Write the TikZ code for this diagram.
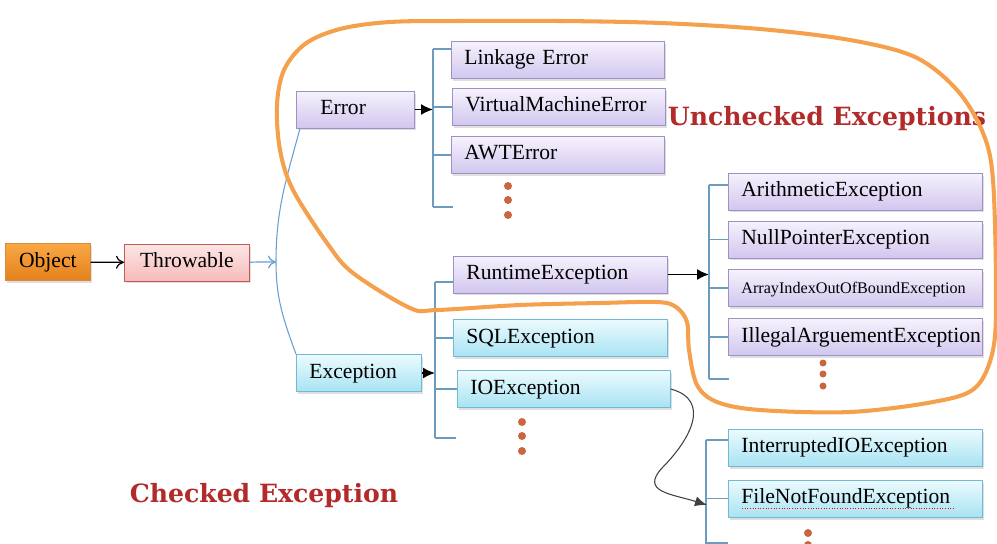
\documentclass[tikz,border=0pt]{standalone}
\usepackage{fontspec}
\setmainfont{Liberation Serif}
\newfontfamily\tagfont{DejaVu Serif}
\usetikzlibrary{shadows,arrows.meta}

\definecolor{lavtop}{HTML}{F6F2FD}
\definecolor{lavbot}{HTML}{D2C6EE}
\definecolor{lavline}{HTML}{9D92C6}
\definecolor{cyantop}{HTML}{ECFBFE}
\definecolor{cyanbot}{HTML}{A8E3F3}
\definecolor{cyanline}{HTML}{72BAD4}
\definecolor{objtop}{HTML}{FAA745}
\definecolor{objbot}{HTML}{E4821C}
\definecolor{objline}{HTML}{D98A3A}
\definecolor{thrtop}{HTML}{FDE6E6}
\definecolor{thrbot}{HTML}{F6BBBB}
\definecolor{thrline}{HTML}{C65A57}
\definecolor{bluline}{HTML}{6A9ECF}
\definecolor{brkline}{HTML}{6B9CBE}
\definecolor{orng}{HTML}{F4A04C}
\definecolor{dotc}{HTML}{C9663F}
\definecolor{tagred}{HTML}{B22A2A}

\begin{document}
\begin{tikzpicture}[x=0.02cm, y=-0.02cm,
  box/.style={draw, anchor=west, minimum height=7.4mm, inner xsep=2.6mm, align=left,
    text height=3mm, text depth=1mm, font=\fontsize{12.3}{14}\selectfont,
    drop shadow={opacity=0.25, shadow xshift=0.4mm, shadow yshift=-0.5mm}},
  errbox/.style={box, top color=lavtop, bottom color=lavbot, draw=lavline},
  chkbox/.style={box, top color=cyantop, bottom color=cyanbot, draw=cyanline},
  brk/.style={draw=brkline, line width=0.6pt},
  arr/.style={-{Latex[length=2.4mm,width=2.2mm]}, line width=0.9pt},
  opn/.style={-{To[length=1.6mm,width=2.6mm]}, line width=0.7pt},
  blu/.style={draw=bluline, line width=0.6pt},
  tag/.style={text=tagred, font={\tagfont\bfseries\fontsize{14.3}{16}\selectfont}}
]

\path[use as bounding box, fill=white] (0,0) rectangle (997,544);
\clip (0,0) rectangle (997,544);

% root chain
\node[box, top color=objtop, bottom color=objbot, draw=objline, minimum width=17mm] (object) at (5,262) {Object};
\node[box, top color=thrtop, bottom color=thrbot, draw=thrline, minimum width=25mm] (throwable) at (124,262.5) {Throwable};

\node[errbox, inner xsep=4.8mm, text width=14mm] (error) at (296,109.5) {Error};
\node[chkbox, text width=19.8mm] (exception) at (296,373) {Exception};

% error children
\node[errbox, text width=37.4mm] (linkage) at (451,60) {Linkage Error};
\node[errbox, text width=37.4mm] (vme) at (452,107) {VirtualMachineError};
\node[errbox, text width=37.4mm] (awt) at (451,155) {AWTError};

% exception children
\node[errbox, text width=37.6mm] (runtime) at (453,274.5) {RuntimeException};
\node[chkbox, text width=37.6mm] (sql) at (453,338) {SQLException};
\node[chkbox, text width=37.4mm] (io) at (457,389) {IOException};

% runtime children
\node[errbox, text width=45.6mm] (arith) at (728,191.5) {ArithmeticException};
\node[errbox, text width=45.6mm] (nullp) at (728,239.5) {NullPointerException};
\node[errbox, text width=45.6mm, font=\fontsize{9.2}{11}\selectfont] (arrayidx) at (728,288) {ArrayIndexOutOfBoundException};
\node[errbox, text width=45.6mm] (illegal) at (728,337) {IllegalArguementException};

% io children
\node[chkbox, text width=45.6mm] (interrupted) at (728,447.5) {InterruptedIOException};
\node[chkbox, text width=45.6mm] (filenf) at (728,498.5) {FileNotFoundException};
\draw[red, densely dotted, line width=0.5pt] ([xshift=2.8mm,yshift=-1.9mm]filenf.west) -- ++(211,0);

% labels
\node[tag] (unchecked) at (827,119) {Unchecked Exceptions};
\node[tag] (checked) at (264,496) {Checked Exception};

% connectors
\draw[opn] (object) -- (throwable);
\coordinate (brace) at (276,262);
\draw[blu, opn] (throwable) -- (brace);
\draw[blu] ([xshift=0.8mm]error.south west) to[out=-105,in=90] (brace) to[out=-90,in=110] (exception.north west);

\coordinate (etop) at (433,49);
\coordinate (ebot) at (433,207);
\draw[arr] (error.east) -- (error.east -| etop);
\draw[brk] (etop) -- (ebot);
\draw[brk] (etop) -- (etop -| linkage.west);
\draw[brk] (vme.west -| etop) -- (vme.west);
\draw[brk] (awt.west -| etop) -- (awt.west);
\draw[brk] (ebot) -- ++(20,0);

\coordinate (xtop) at (435,282);
\coordinate (xbot) at (435,438);
\draw[arr] (exception.east) -- (exception.east -| xtop);
\draw[brk] (xtop) -- (xbot);
\draw[brk] (xtop) -- (xtop -| runtime.west);
\draw[brk] (sql.west -| xtop) -- (sql.west);
\draw[brk] (io.west -| xtop) -- (io.west);
\draw[brk] (xbot) -- ++(21,0);

\coordinate (rtop) at (709,185);
\coordinate (rbot) at (709,379);
\draw[arr] (runtime.east) -- (runtime.east -| rtop);
\draw[brk] (rtop) -- (rbot);
\draw[brk] (rtop) -- (rtop -| arith.west);
\draw[brk] (nullp.west -| rtop) -- (nullp.west);
\draw[brk] (arrayidx.west -| rtop) -- (arrayidx.west);
\draw[brk] (illegal.west -| rtop) -- (illegal.west);
\draw[brk] (rbot) -- ++(20,0);

\coordinate (btop) at (706,440);
\coordinate (bbot) at (706,543);
\coordinate (iotip) at (707,505);
\draw[brk] (btop) -- ++(0,120);
\draw[brk] (btop) -- (btop -| interrupted.west);
\draw[brk] (filenf.west -| btop) -- (filenf.west);
\draw[brk] (bbot) -- ++(22,0);
\draw[-{Latex[length=2.4mm,width=2mm]}, line width=0.6pt, draw=black!75] (io.east) .. controls (712,400) and (690,440) .. (662,468) .. controls (640,492) and (672,494) .. (iotip);

% more dots
\fill[dotc] (508,186) circle (0.8mm);
\fill[dotc] (508,200) circle (0.8mm);
\fill[dotc] (508,215) circle (0.8mm);
\fill[dotc] (522,422) circle (0.8mm);
\fill[dotc] (522,436) circle (0.8mm);
\fill[dotc] (522,451) circle (0.8mm);
\fill[dotc] (823,363) circle (0.7mm);
\fill[dotc] (823,374) circle (0.7mm);
\fill[dotc] (823,386) circle (0.7mm);
\fill[dotc] (808,533) circle (0.8mm);
\fill[dotc] (808,545) circle (0.8mm);

% unchecked region
\draw[orng, line width=2.3pt] plot[smooth cycle, tension=0.55] coordinates {(460,21) (560,21) (660,23) (760,29) (850,40) (915,57) (957,90) (983,133) (993,180) (996,290) (993,350) (975,388) (933,402) (850,412) (760,410) (717,402) (697,385) (689,350) (687,322) (676,307) (657,302) (600,303) (520,305) (437,310) (410,308) (353,273) (327,243) (293,190) (280,150) (277,105) (284,70) (305,44) (340,29) (390,22)};

\end{tikzpicture}
\end{document}
